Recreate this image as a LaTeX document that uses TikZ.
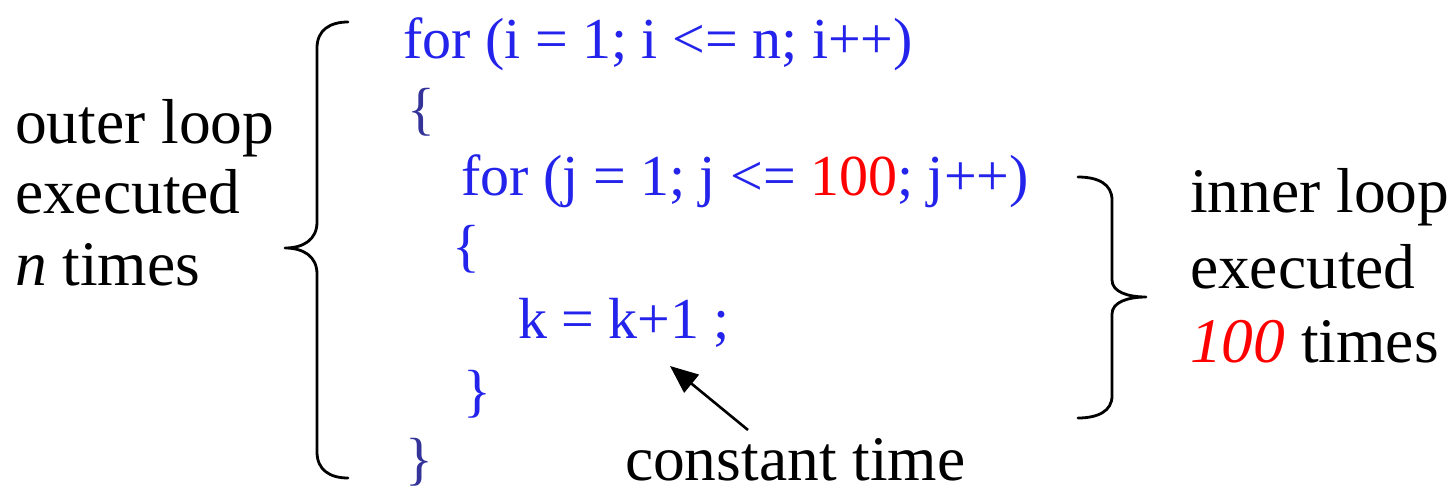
\documentclass[tikz,border=0pt]{standalone}
\usepackage{fontspec}
\setmainfont{Liberation Serif}
\newfontfamily\tnrfont{Liberation Serif}
\usetikzlibrary{arrows.meta}
\definecolor{codeblue}{RGB}{35,35,235}
\definecolor{bracedark}{RGB}{51,51,153}
\definecolor{hotred}{RGB}{255,0,0}
\newcommand{\codesize}{\tnrfont\fontsize{58}{62}\selectfont}
\newcommand{\labsize}{\tnrfont\fontsize{63.5}{68}\selectfont}
\tikzset{
  codeline/.style={anchor=base west, inner sep=0pt, outer sep=0pt, text=codeblue, font=\codesize},
  darkbrace/.style={codeline, text=bracedark},
  lab/.style={anchor=base west, inner sep=0pt, outer sep=0pt, text=black, font=\labsize},
  bigbrace/.style={draw=black, line width=2.8pt, line cap=round, line join=round},
  pointer/.style={draw=black, line width=2.6pt, -{Triangle[length=28pt,width=23pt]}}
}
\begin{document}
\begin{tikzpicture}[x=1pt,y=-1pt]
\useasboundingbox (0,0) rectangle (1453,488);
% code lines
\node[codeline] (l1) at (403,58) {for (i = 1; i <= n; i++)};
\node[darkbrace] (l2) at (407,128) {\{};
\node[codeline] (l3) at (461,195) {for (j = 1; j <= \textcolor{hotred}{100}; j++)};
\node[codeline] (l4) at (452,265) {\{};
\node[codeline] (l5) at (518,338) {k = k+1 ;};
\node[codeline] (l6) at (463,410) {\}};
\node[darkbrace] (l7) at (405,478) {\}};
% left label
\node[lab] (o1) at (15,143) {outer loop};
\node[lab] (o2) at (15,213) {executed};
\node[lab] (o3) at (15,285) {\textit{n} times};
% right label
\node[lab] (r1) at (1190,212) {inner loop};
\node[lab] (r2) at (1190,288) {executed};
\node[lab] (r3) at (1190,362) {\textcolor{hotred}{\textit{100}} times};
% bottom label
\node[lab] (ct) at (625,480) {constant time};
% outer brace
\draw[bigbrace] (348,22) .. controls (330,22) and (317,30) .. (317,48)
  -- (317,222) .. controls (317,240) and (303,248) .. (285,248)
  .. controls (303,248) and (317,256) .. (317,274)
  -- (317,452) .. controls (317,470) and (330,478) .. (348,478);
% inner brace
\draw[bigbrace] (1078,177) .. controls (1098,177) and (1112,184) .. (1112,200)
  -- (1112,280) .. controls (1112,292) and (1128,297) .. (1146,297)
  .. controls (1128,297) and (1112,302) .. (1112,314)
  -- (1112,396) .. controls (1112,411) and (1098,418) .. (1078,418);
% arrow
\coordinate (tail) at (748,430);
\coordinate (tip) at (670,366);
\draw[pointer] (tail) -- (tip);
\end{tikzpicture}
\end{document}
